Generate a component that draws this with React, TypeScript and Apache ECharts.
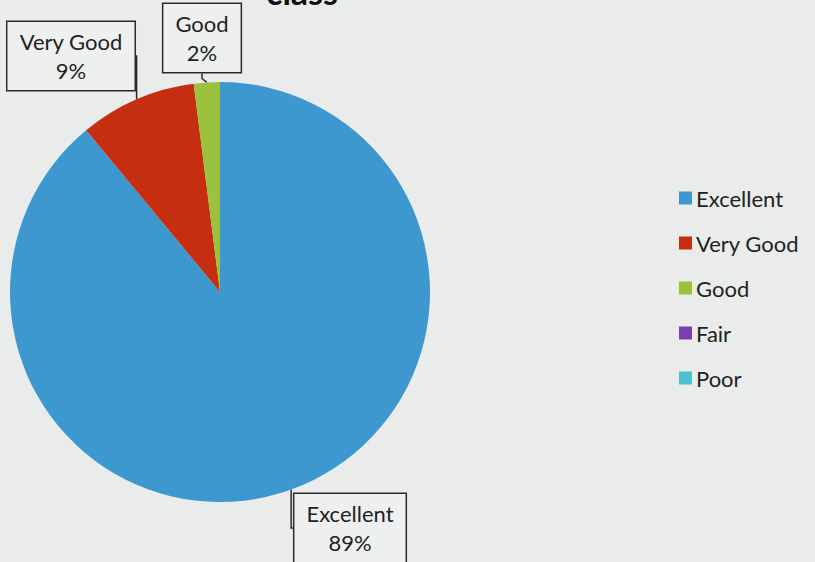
import React, { useEffect, useRef } from "react";
import * as echarts from "echarts";

const categories = ["Excellent", "Very Good", "Good", "Fair", "Poor"];
const values = [89, 9, 2, 0, 0];
const colors = ["#3c98cf", "#c52e10", "#9bc23c", "#7a3fb0", "#4fbfcf"];
const titleText = "class";

// callout box centres (page pixels), by category index
const calloutCenters: Record<number, [number, number]> = {
  0: [350, 528],
  1: [71, 56],
  2: [202, 38],
};

export default function App() {
  const ref = useRef<HTMLDivElement>(null);
  useEffect(() => {
    if (!ref.current) return;
    const chart = echarts.init(ref.current, null, { renderer: "svg" });
    const font = "Lato, 'Open Sans', sans-serif";
    const data = categories.map((name, i) => ({
      name,
      value: values[i],
      itemStyle: { color: colors[i] },
      label: { show: values[i] > 0 },
      labelLine: { show: values[i] > 0 },
    }));
    chart.setOption({
      animation: false,
      backgroundColor: "#e9ecea",
      graphic: [
        {
          type: "text",
          x: 302,
          y: -9,
          style: {
            text: titleText,
            font: "bold 34px Lato, 'Open Sans', sans-serif",
            fill: "#111",
            align: "center",
            verticalAlign: "middle",
          },
        },
      ],
      legend: {
        orient: "vertical",
        left: 674,
        top: 181,
        itemWidth: 13,
        itemHeight: 13,
        itemGap: 21,
        icon: "rect",
        textStyle: {
          fontFamily: font,
          fontSize: 22,
          color: "#222",
          lineHeight: 24,
          padding: [0, 0, 0, -1],
        },
        data: categories,
      },
      series: [
        {
          type: "pie",
          center: [220, 292],
          radius: 210,
          startAngle: 90,
          clockwise: true,
          avoidLabelOverlap: false,
          data,
          label: {
            show: true,
            position: "outside",
            formatter: (p: any) => `${p.name}\n${Math.round(p.percent)}%`,
            fontFamily: font,
            fontSize: 22,
            lineHeight: 29,
            color: "#222",
            align: "center",
            backgroundColor: "#eef0ef",
            borderColor: "#2a2a2a",
            borderWidth: 1.5,
            padding: [6, 12, 4, 12],
          },
          labelLine: {
            show: true,
            length: 5,
            length2: 5,
            lineStyle: { color: "#2a2a2a", width: 1.5 },
          },
          labelLayout: (params: any) => {
            const c = calloutCenters[params.dataIndex];
            if (!c) return {};
            return { x: c[0], y: c[1], align: "center", verticalAlign: "middle" };
          },
          emphasis: { disabled: true },
        },
      ],
    });
    return () => chart.dispose();
  }, []);
  return (
    <div
      ref={ref}
      style={{ position: "absolute", left: 0, top: 0, width: 815, height: 562 }}
    />
  );
}
